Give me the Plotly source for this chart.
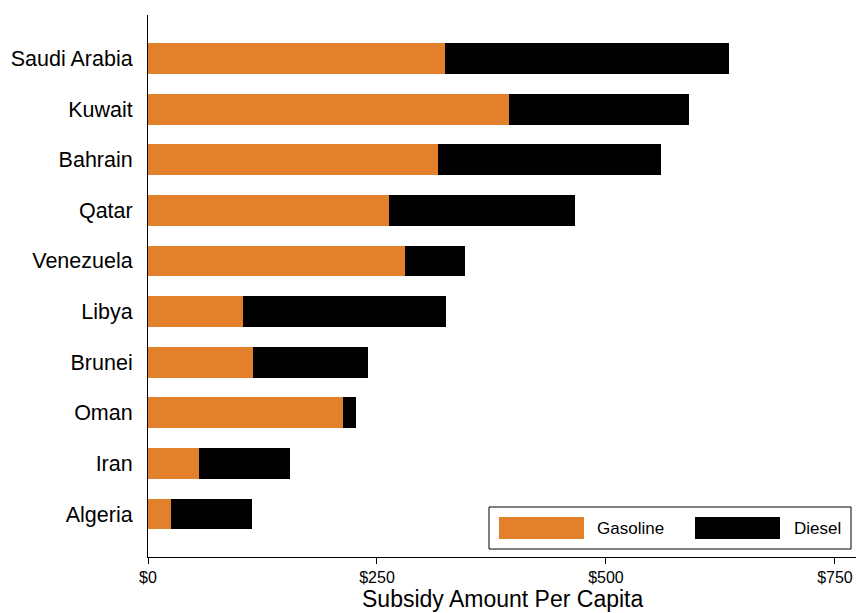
import plotly.graph_objects as go

countries = ["Algeria", "Iran", "Oman", "Brunei", "Libya", "Venezuela", "Qatar", "Bahrain", "Kuwait", "Saudi Arabia"]
gasoline = [25, 56, 213, 115, 104, 281, 263, 317, 394, 324]
diesel = [89, 99, 14, 125, 221, 65, 203, 243, 197, 310]
tick_vals = [0, 250, 500, 750]
tick_text = ["$0", "$250", "$500", "$750"]

ORANGE = "#E2802B"
BLACK = "#000000"

W, H = 856, 613
PL, PT, PR, PB = 148, 15, 856, 557  # plot area in window pixels
pw, ph = PR - PL, PB - PT

def px(x):
    return (x - PL) / pw

def py(y):
    return (PB - y) / ph

fig = go.Figure()
fig.add_trace(go.Bar(y=countries, x=gasoline, orientation="h", name="Gasoline",
                     marker=dict(color=ORANGE, line=dict(width=0)), width=0.61))
fig.add_trace(go.Bar(y=countries, x=diesel, orientation="h", name="Diesel",
                     marker=dict(color=BLACK, line=dict(width=0)), width=0.61))

fig.update_layout(
    barmode="stack",
    width=W, height=H,
    margin=dict(l=PL, r=W - PR, t=PT, b=H - PB, pad=0),
    plot_bgcolor="white", paper_bgcolor="white",
    showlegend=False,
    font=dict(family="Liberation Sans, Arial, sans-serif", color="black"),
    xaxis=dict(range=[0, 773], tickvals=tick_vals, ticktext=tick_text,
               showgrid=False, zeroline=False, showline=True, linecolor="black", linewidth=1,
               ticks="outside", ticklen=6, tickcolor="black",
               tickfont=dict(size=16)),
    yaxis=dict(range=[-0.85, 9.86], showgrid=False, zeroline=False, showline=True,
               linecolor="black", linewidth=1, ticks="", ticklabelstandoff=10,
               tickfont=dict(size=21.5)),
)

# x-axis title
fig.add_annotation(xref="paper", yref="paper", x=0.5, y=py(599),
                   text="Subsidy Amount Per Capita", showarrow=False,
                   xanchor="center", yanchor="middle", font=dict(size=23))

# custom legend box
fig.add_shape(type="rect", xref="paper", yref="paper",
              x0=px(489), x1=px(851), y0=py(549), y1=py(507),
              line=dict(color="black", width=1), fillcolor="white")
fig.add_shape(type="rect", xref="paper", yref="paper",
              x0=px(499), x1=px(584), y0=py(539), y1=py(517),
              line=dict(width=0), fillcolor=ORANGE)
fig.add_shape(type="rect", xref="paper", yref="paper",
              x0=px(695), x1=px(780), y0=py(539), y1=py(517),
              line=dict(width=0), fillcolor=BLACK)
fig.add_annotation(xref="paper", yref="paper", x=px(596), y=py(528),
                   text="Gasoline", showarrow=False, xanchor="left", yanchor="middle",
                   xshift=-1, font=dict(size=17))
fig.add_annotation(xref="paper", yref="paper", x=px(793), y=py(528),
                   text="Diesel", showarrow=False, xanchor="left", yanchor="middle",
                   xshift=-1, font=dict(size=17))

# remove the default 8px page margin so the figure fills the window exactly
fig.write_html("out.html", config={"displayModeBar": False},
               post_script="document.body.style.margin='0px';document.body.style.overflow='hidden';")
